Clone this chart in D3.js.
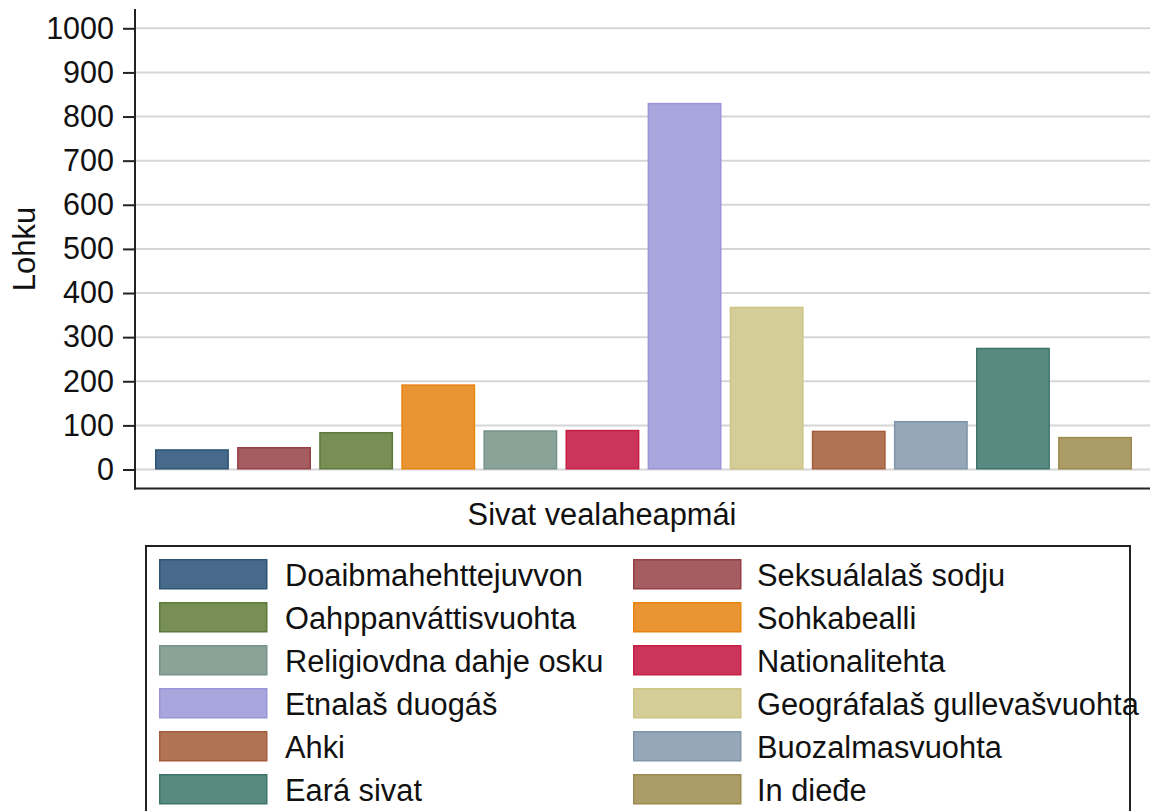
<!DOCTYPE html>
<html>
<head>
<meta charset="utf-8">
<script src="https://cdn.jsdelivr.net/npm/d3@7"></script>
<style>
  body { margin: 0; background: #fff; }
  svg { display: block; font-family: "Liberation Sans", Arial, sans-serif; }
</style>
</head>
<body>
<svg width="1153" height="811"></svg>
<script>
const categories = [
  'Doaibmahehttejuvvon', 'Seksuálalaš sodju', 'Oahppanváttisvuohta', 'Sohkabealli',
  'Religiovdna dahje osku', 'Nationalitehta', 'Etnalaš duogáš', 'Geográfalaš gullevašvuohta',
  'Ahki', 'Buozalmasvuohta', 'Eará sivat', 'In dieđe'
];
const values = [46, 51, 85, 193, 89, 90, 831, 369, 88, 110, 276, 74];
const fills = ['#476a8b', '#a65d61', '#778e55', '#e99534', '#89a398', '#cc355a',
  '#a9a5dd', '#d4cd97', '#b07455', '#95a7b8', '#588a82', '#ac9c68'];
const strokes = ['#2f5475', '#963f46', '#5d7a3c', '#e8830e', '#779488', '#c71f45',
  '#9a95d8', '#cdc584', '#a55c3b', '#8095a9', '#3d756b', '#9c8a4c'];
const yTicks = [0, 100, 200, 300, 400, 500, 600, 700, 800, 900, 1000];

const svg = d3.select('svg');
const plot = { left: 135, right: 1150, top: 9, bottom: 488.5 };

const x = d3.scaleBand()
  .domain(categories)
  .range([155, 1132])
  .paddingInner(0.1)
  .paddingOuter(0);
const y = d3.scaleLinear()
  .domain([0, 1000])
  .range([469.5, 28.3]);

// gridlines
svg.append('g')
  .selectAll('line')
  .data(yTicks)
  .enter()
  .append('line')
  .attr('x1', plot.left)
  .attr('x2', plot.right)
  .attr('y1', d => y(d))
  .attr('y2', d => y(d))
  .attr('stroke', '#d6d6d6')
  .attr('stroke-width', 2);

// bars
svg.append('g')
  .selectAll('rect')
  .data(values)
  .enter()
  .append('rect')
  .attr('x', (d, i) => x(categories[i]) + 0.75)
  .attr('y', d => y(d) + 0.75)
  .attr('width', x.bandwidth() - 1.5)
  .attr('height', d => y(0) - y(d) - 1.5)
  .attr('fill', (d, i) => fills[i])
  .attr('stroke', (d, i) => strokes[i])
  .attr('stroke-width', 1.5);

// y axis
const yAxis = svg.append('g')
  .attr('transform', `translate(${plot.left},0)`)
  .call(d3.axisLeft(y).tickValues(yTicks).tickFormat(d3.format('d')).tickSize(12).tickPadding(9));
yAxis.select('.domain').remove();
yAxis.selectAll('.tick line').attr('stroke', '#222').attr('stroke-width', 2);
yAxis.selectAll('.tick text')
  .attr('font-size', 30.5)
  .attr('font-family', '"Liberation Sans", Arial, sans-serif')
  .attr('fill', '#111');

// axis lines
svg.append('line')
  .attr('x1', plot.left).attr('x2', plot.left)
  .attr('y1', plot.top).attr('y2', plot.bottom + 1)
  .attr('stroke', '#222').attr('stroke-width', 2);
svg.append('line')
  .attr('x1', plot.left - 1).attr('x2', plot.right)
  .attr('y1', plot.bottom).attr('y2', plot.bottom)
  .attr('stroke', '#222').attr('stroke-width', 2);

// axis titles
svg.append('text')
  .attr('transform', 'translate(35,249) rotate(-90)')
  .attr('text-anchor', 'middle')
  .attr('font-size', 31)
  .attr('fill', '#111')
  .text('Lohku');
svg.append('text')
  .attr('x', 602)
  .attr('y', 525)
  .attr('text-anchor', 'middle')
  .attr('font-size', 30.8)
  .attr('fill', '#111')
  .text('Sivat vealaheapmái');

// legend
const legend = svg.append('g');
legend.append('rect')
  .attr('x', 146).attr('y', 546)
  .attr('width', 984).attr('height', 290)
  .attr('fill', '#fff')
  .attr('stroke', '#222').attr('stroke-width', 2);

const legendCols = [159, 633];
const items = legend.selectAll('g.item')
  .data(categories)
  .enter()
  .append('g')
  .attr('class', 'item')
  .attr('transform', (d, i) => `translate(${legendCols[i % 2]},${559 + Math.floor(i / 2) * 43})`);
items.append('rect')
  .attr('x', 0.75).attr('y', 0.75)
  .attr('width', 107).attr('height', 29)
  .attr('fill', (d, i) => fills[i])
  .attr('stroke', (d, i) => strokes[i])
  .attr('stroke-width', 1.5);
items.append('text')
  .attr('x', (d, i) => i % 2 === 0 ? 126 : 124)
  .attr('y', 26.5)
  .attr('font-size', 30.8)
  .attr('fill', '#111')
  .text(d => d);
</script>
</body>
</html>
